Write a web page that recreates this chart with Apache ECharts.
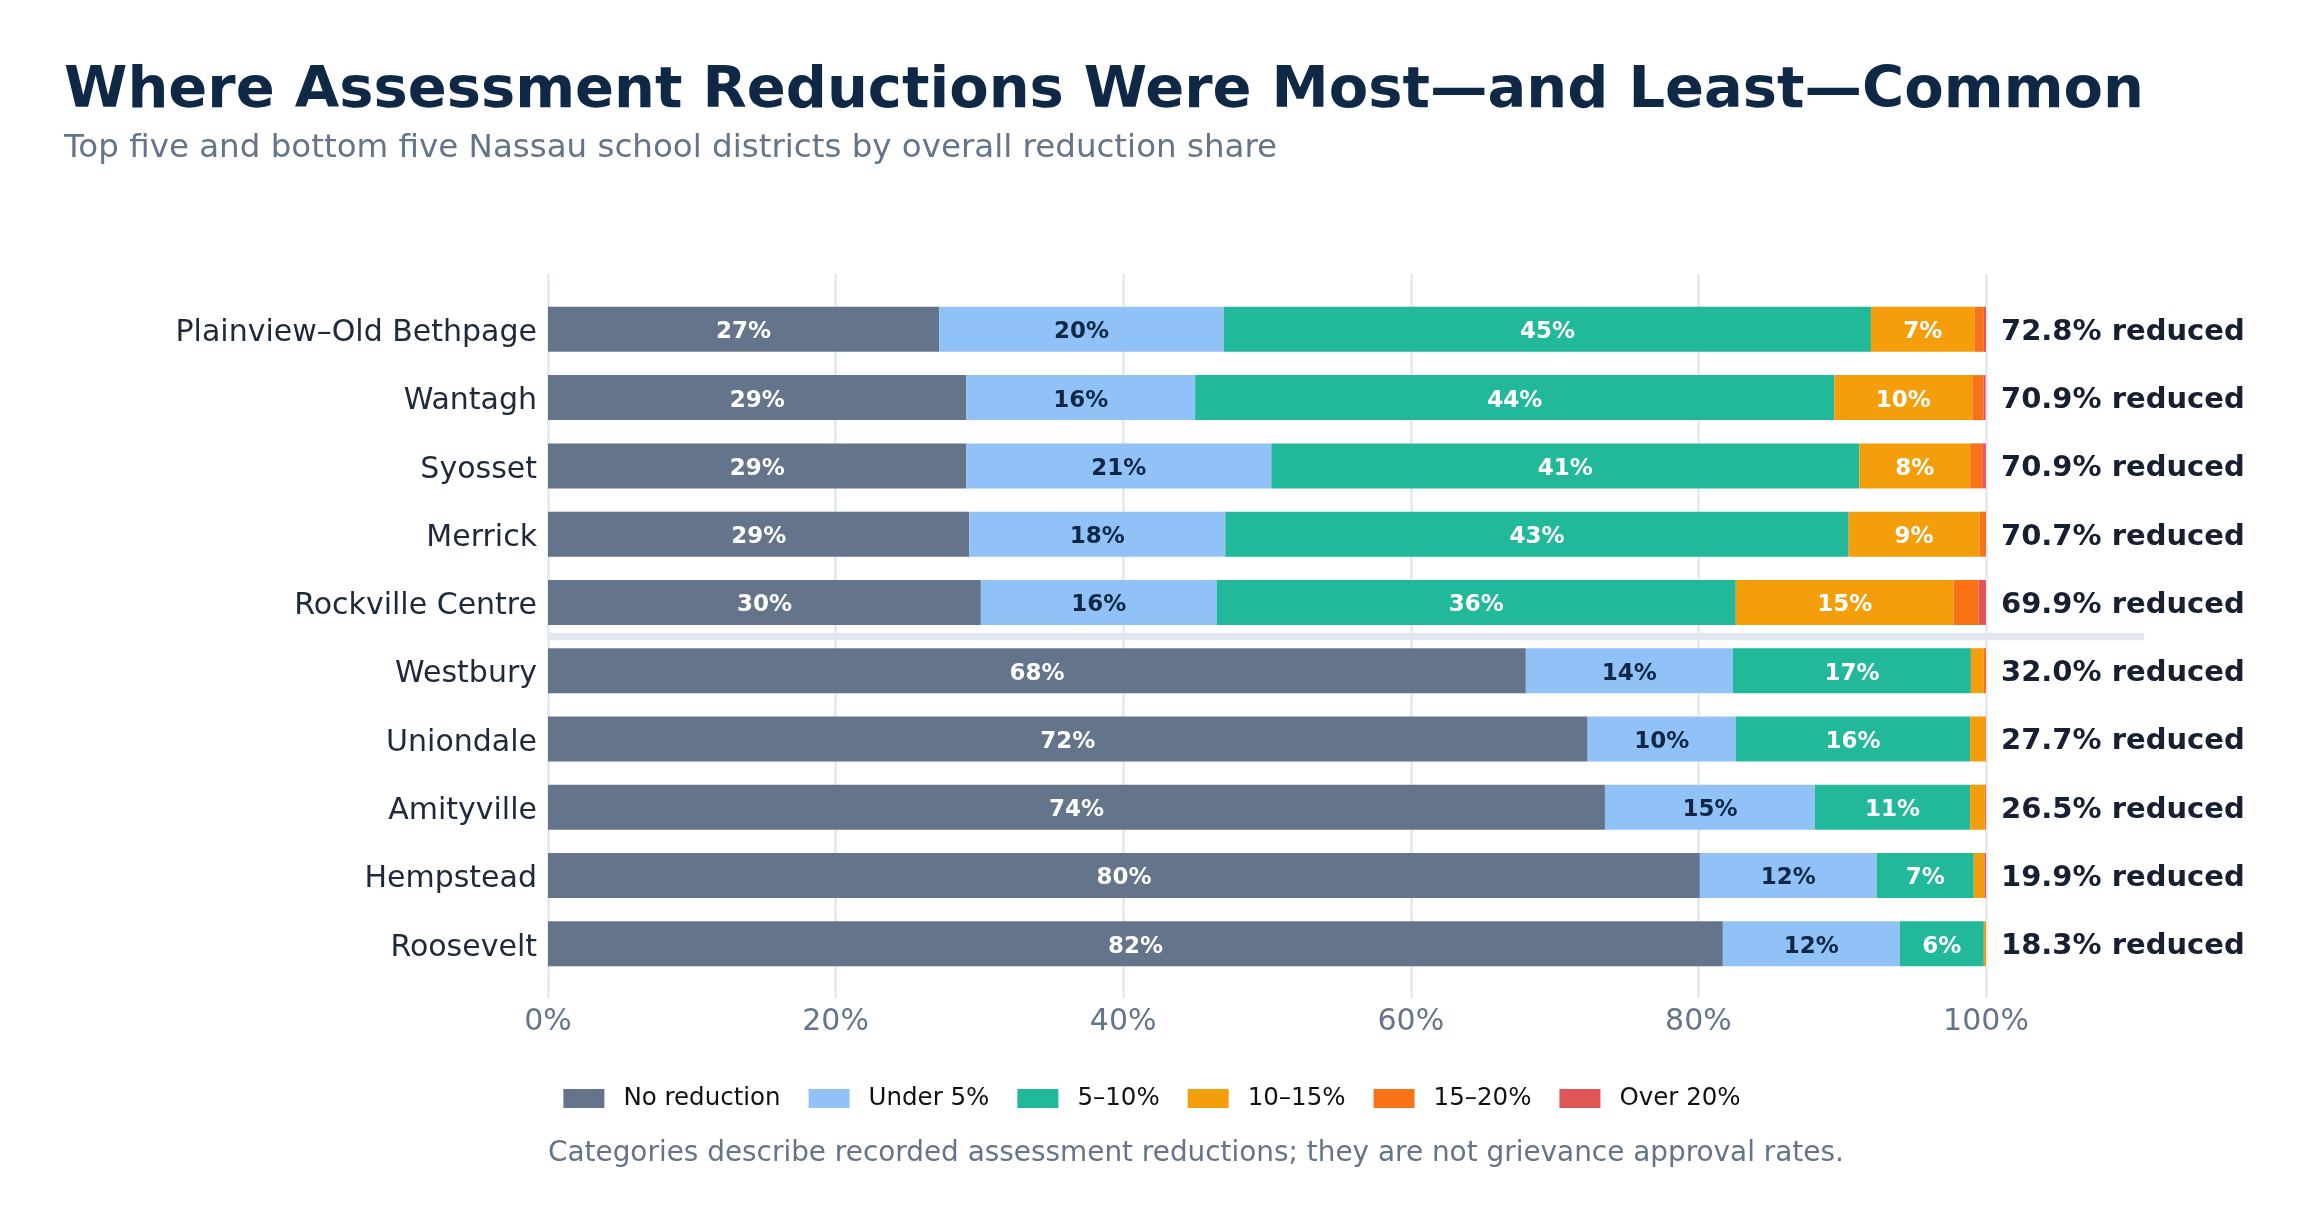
<!DOCTYPE html>
<html>
<head>
<meta charset="utf-8">
<title>Assessment reductions by school district</title>
<script src="https://cdn.jsdelivr.net/npm/echarts@6/dist/echarts.min.js"></script>
<style>
  html, body { margin: 0; padding: 0; background: #ffffff; }
  #main { width: 2304px; height: 1228px; }
</style>
</head>
<body>
<div id="main"></div>
<script type="text/javascript">
// districts, top five then bottom five
var districts = ['Plainview–Old Bethpage', 'Wantagh', 'Syosset', 'Merrick', 'Rockville Centre',
                 'Westbury', 'Uniondale', 'Amityville', 'Hempstead', 'Roosevelt'];

// share of parcels in each reduction band (%)
var noReduction = [27.2, 29.1, 29.1, 29.3, 30.1, 68.0, 72.3, 73.5, 80.1, 81.7];
var under5      = [19.8, 15.9, 21.2, 17.8, 16.4, 14.4, 10.3, 14.6, 12.3, 12.3];
var pct5to10    = [45.0, 44.45, 40.9, 43.35, 36.1, 16.55, 16.3, 10.8, 6.75, 5.85];
var pct10to15   = [7.2, 9.6, 7.7, 9.1, 15.15, 0.9, 1.05, 1.0, 0.74, 0.15];
var pct15to20   = [0.65, 0.77, 0.84, 0.45, 1.73, 0.15, 0.05, 0.1, 0.0, 0.0];
var over20      = [0.15, 0.15, 0.25, 0.0, 0.55, 0.0, 0.0, 0.0, 0.11, 0.0];

// overall reduced share printed at the right
var reducedShare = [72.8, 70.9, 70.9, 70.7, 69.9, 32.0, 27.7, 26.5, 19.9, 18.3];

var bandNames  = ['No reduction', 'Under 5%', '5–10%', '10–15%', '15–20%', 'Over 20%'];
var bandValues = [noReduction, under5, pct5to10, pct10to15, pct15to20, over20];
var bandColors = ['#64748b', '#90c2f8', '#21b99a', '#f59e0b', '#f97316', '#e05555'];
var labelColors = ['#ffffff', '#0f2846', '#ffffff', '#ffffff', '#ffffff', '#ffffff'];

var xTicks = [0, 20, 40, 60, 80, 100];

var FONT = 'DejaVu Sans';
var chart = echarts.init(document.getElementById('main'));

var series = bandNames.map(function (name, k) {
  return {
    name: name,
    type: 'bar',
    stack: 'share',
    xAxisIndex: 1,
    yAxisIndex: 1,
    barWidth: 45,
    itemStyle: { color: bandColors[k] },
    label: {
      show: true,
      position: 'inside',
      offset: [0, 3],
      fontFamily: FONT,
      fontSize: 23,
      fontWeight: 'bold',
      color: labelColors[k],
      formatter: function (p) {
        // small slivers stay unlabelled
        return p.value >= 4 ? Math.round(p.value) + '%' : '';
      }
    },
    data: bandValues[k]
  };
});

// "xx.x% reduced" text hanging off the end of each bar
series.push({
  name: 'reduced',
  type: 'scatter',
  xAxisIndex: 1,
  yAxisIndex: 1,
  symbolSize: 0,
  silent: true,
  itemStyle: { opacity: 1 },
  label: {
    show: true,
    position: 'right',
    distance: 15,
    offset: [0, 3],
    fontFamily: FONT,
    fontSize: 29,
    fontWeight: 'bold',
    color: '#172033',
    formatter: function (p) {
      return reducedShare[p.dataIndex].toFixed(1) + '% reduced';
    }
  },
  data: districts.map(function (d) { return [xTicks[xTicks.length - 1], d]; })
});

var option = {
  backgroundColor: '#ffffff',
  animation: false,
  textStyle: { fontFamily: FONT },
  title: [
    {
      text: 'Where Assessment Reductions Were Most—and Least—Common',
      left: 64, top: 63, padding: 0,
      textStyle: { fontFamily: FONT, fontSize: 57.5, fontWeight: 'bold', color: '#0f2846' }
    },
    {
      text: 'Top five and bottom five Nassau school districts by overall reduction share',
      left: 64, top: 132, padding: 0,
      textStyle: { fontFamily: FONT, fontSize: 32.5, fontWeight: 'normal', color: '#64748b' }
    },
    {
      text: 'Categories describe recorded assessment reductions; they are not grievance approval rates.',
      left: 548, top: 1140, padding: 0,
      textStyle: { fontFamily: FONT, fontSize: 27.9, fontWeight: 'normal', color: '#64748b' }
    }
  ],
  legend: {
    data: bandNames,
    left: 'center',
    top: 1086,
    icon: 'rect',
    itemWidth: 41,
    itemHeight: 19,
    itemGap: 28,
    padding: 0,
    textStyle: { fontFamily: FONT, fontSize: 24.5, color: '#111111', padding: [0, 0, 0, 14] }
  },
  grid: [
    // grid 0 only carries the gridlines and the percent axis (a bit taller than the bars)
    { left: 548, right: 318, top: 274, bottom: 230 },
    // grid 1 holds the bars
    { left: 548, right: 318, top: 295.2, bottom: 250.1 }
  ],
  xAxis: [
    {
      gridIndex: 0,
      type: 'value',
      min: 0, max: 100, interval: 20,
      axisLine: { show: false },
      axisTick: { show: false },
      axisLabel: {
        formatter: '{value}%',
        fontFamily: FONT, fontSize: 30, color: '#64748b', margin: 9
      },
      splitLine: { show: true, lineStyle: { color: '#e2e8f0', width: 2.5 } }
    },
    {
      gridIndex: 1,
      type: 'value',
      min: 0, max: 100,
      show: false
    }
  ],
  yAxis: [
    { gridIndex: 0, type: 'value', min: 0, max: 1, show: false },
    {
      gridIndex: 1,
      type: 'category',
      inverse: true,
      data: districts,
      axisLine: { show: false },
      axisTick: { show: false },
      splitLine: { show: false },
      axisLabel: {
        margin: 11,
        formatter: function (v) { return '{n|' + v + '}'; },
        rich: {
          n: { fontFamily: FONT, fontSize: 30, color: '#1e293b', padding: [8, 0, 0, 0] }
        }
      }
    }
  ],
  series: series
};

chart.setOption(option);

// divider between the top five and the bottom five, placed from the axis scales
var yTopFive = chart.convertToPixel({ yAxisIndex: 1 }, districts[4]);
var yBottomFive = chart.convertToPixel({ yAxisIndex: 1 }, districts[5]);
var yDivider = (yTopFive + yBottomFive) / 2;
var xStart = chart.convertToPixel({ xAxisIndex: 1 }, 0);
var xEnd = chart.convertToPixel({ xAxisIndex: 1 }, 111);
chart.setOption({
  graphic: [{
    type: 'rect',
    silent: true,
    z: 0,
    shape: { x: xStart, y: yDivider - 3.75, width: xEnd - xStart, height: 7.5 },
    style: { fill: '#e2e8f0' }
  }]
});
</script>
</body>
</html>
